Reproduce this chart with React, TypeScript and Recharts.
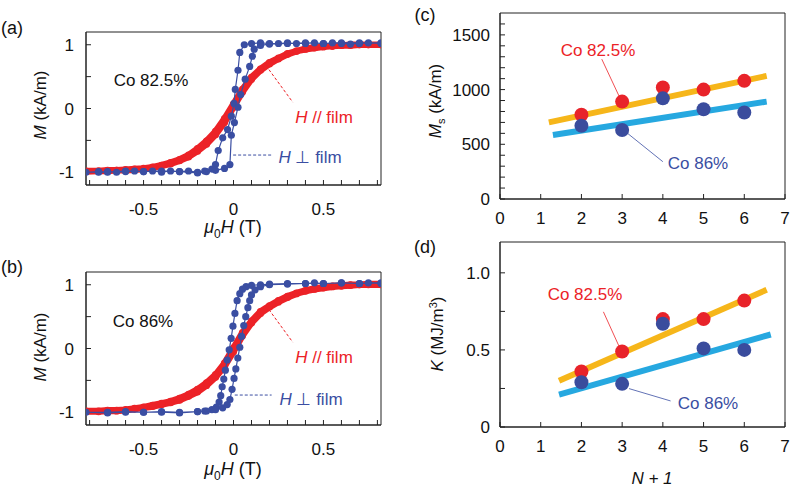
import React from 'react';
import { ScatterChart, Scatter, XAxis, YAxis, ReferenceLine, ReferenceArea } from 'recharts';

const FONT = '"Liberation Sans", Arial, Helvetica, sans-serif';

// ---- (a) / (b) hysteresis loops: mu0H (T) vs M (normalised) ----
const fieldGrid = [-0.82, -0.75, -0.7, -0.65, -0.6, -0.55, -0.5, -0.45, -0.4, -0.35, -0.3, -0.25, -0.2, -0.15, -0.1, -0.05, 0, 0.05, 0.1, 0.15, 0.2, 0.25, 0.3, 0.35, 0.4, 0.45, 0.5, 0.55, 0.6, 0.65, 0.7, 0.75, 0.82];

// H // film (in-plane), up sweep and down sweep, sampled on fieldGrid
const inPlaneUpA = [-0.99, -0.98, -0.98, -0.97, -0.97, -0.96, -0.95, -0.93, -0.9, -0.87, -0.82, -0.76, -0.67, -0.56, -0.41, -0.22, 0.02, 0.26, 0.46, 0.6, 0.7, 0.78, 0.85, 0.9, 0.93, 0.95, 0.97, 0.98, 0.99, 0.99, 1.0, 1.0, 1.0];
const inPlaneDownA = [-0.98, -0.98, -0.97, -0.97, -0.96, -0.95, -0.94, -0.92, -0.89, -0.85, -0.8, -0.73, -0.63, -0.51, -0.36, -0.16, 0.07, 0.3, 0.49, 0.62, 0.72, 0.79, 0.86, 0.9, 0.94, 0.96, 0.97, 0.98, 0.99, 1.0, 1.0, 1.0, 1.0];
const inPlaneUpB = [-0.99, -0.99, -0.98, -0.98, -0.97, -0.95, -0.93, -0.91, -0.88, -0.85, -0.81, -0.75, -0.68, -0.58, -0.45, -0.28, -0.05, 0.2, 0.4, 0.55, 0.65, 0.73, 0.8, 0.86, 0.9, 0.93, 0.95, 0.97, 0.98, 0.99, 1.0, 1.0, 1.0];
const inPlaneDownB = [-0.98, -0.98, -0.97, -0.97, -0.96, -0.94, -0.92, -0.89, -0.86, -0.83, -0.78, -0.72, -0.64, -0.54, -0.41, -0.23, 0.01, 0.25, 0.43, 0.58, 0.67, 0.75, 0.82, 0.87, 0.91, 0.94, 0.96, 0.98, 0.99, 1.0, 1.0, 1.01, 1.01];

// H ⊥ film (perpendicular) loops, in sweep order [field, M]
const perpLoopA: [number, number][] = [
  [0.82, 1.02], [0.75, 1.03], [0.7, 1.02], [0.65, 1.01], [0.6, 1.02], [0.55, 1.03], [0.5, 1.02], [0.45, 1.03], [0.4, 1.02], [0.35, 1.02],
  [0.3, 1.03], [0.25, 1.02], [0.2, 1.02], [0.15, 1.03], [0.1, 1.02], [0.06, 1.0], [0.035, 0.88], [0.025, 0.6], [0.01, 0.3], [0.003, 0.08],
  [-0.012, -0.12], [-0.033, -0.33], [-0.06, -0.46], [-0.085, -0.66], [-0.1, -0.88], [-0.12, -0.95], [-0.16, -0.98], [-0.2, -1.0], [-0.25, -0.98],
  [-0.3, -0.99], [-0.35, -0.98], [-0.4, -1.0], [-0.45, -0.98], [-0.5, -0.99], [-0.55, -0.98], [-0.6, -0.99], [-0.65, -1.0], [-0.7, -0.99],
  [-0.75, -1.0], [-0.82, -1.0], [-0.75, -0.99], [-0.7, -1.0], [-0.6, -0.98], [-0.5, -0.99], [-0.4, -0.98], [-0.3, -0.99], [-0.2, -1.01],
  [-0.15, -0.99], [-0.1, -0.97], [-0.05, -0.94], [-0.02, -0.88], [-0.012, -0.42], [0.005, -0.22], [0.025, 0.02], [0.04, 0.22], [0.065, 0.46],
  [0.09, 0.66], [0.105, 0.82], [0.115, 0.93], [0.15, 0.99], [0.2, 1.01], [0.3, 1.02], [0.4, 1.03], [0.5, 1.02], [0.6, 1.03], [0.7, 1.03], [0.82, 1.03],
];
const perpLoopB: [number, number][] = [
  [0.82, 1.02], [0.75, 1.03], [0.7, 1.02], [0.6, 1.03], [0.5, 1.02], [0.45, 1.03], [0.4, 1.02], [0.3, 1.02], [0.2, 1.01], [0.15, 1.0],
  [0.1, 0.99], [0.07, 0.97], [0.05, 0.93], [0.035, 0.86], [0.02, 0.75], [0.008, 0.55], [-0.003, 0.35], [-0.013, 0.16], [-0.024, -0.02],
  [-0.035, -0.18], [-0.045, -0.34], [-0.054, -0.48], [-0.063, -0.6], [-0.071, -0.74], [-0.08, -0.84], [-0.095, -0.92], [-0.12, -0.96],
  [-0.16, -0.98], [-0.2, -0.99], [-0.3, -1.0], [-0.4, -0.99], [-0.5, -1.0], [-0.6, -0.99], [-0.7, -1.0], [-0.82, -1.0],
  [-0.7, -1.01], [-0.6, -1.0], [-0.5, -1.0], [-0.4, -1.0], [-0.3, -1.01], [-0.2, -0.99], [-0.15, -0.98], [-0.1, -0.96], [-0.06, -0.93],
  [-0.035, -0.88], [-0.02, -0.8], [-0.008, -0.64], [0.003, -0.47], [0.013, -0.32], [0.024, -0.15], [0.035, 0.02], [0.045, 0.19],
  [0.057, 0.36], [0.068, 0.5], [0.08, 0.64], [0.09, 0.75], [0.1, 0.84], [0.12, 0.92], [0.15, 0.97], [0.2, 1.0], [0.3, 1.01], [0.4, 1.02],
  [0.5, 1.02], [0.6, 1.03], [0.7, 1.02], [0.82, 1.03],
];

const fieldTicks = [-0.8, -0.7, -0.6, -0.5, -0.4, -0.3, -0.2, -0.1, 0, 0.1, 0.2, 0.3, 0.4, 0.5, 0.6, 0.7, 0.8];
const fieldLabels = [-0.5, 0, 0.5];
const mTicks = [-1, -0.5, 0, 0.5, 1];
const mLabels = [-1, 0, 1];

// ---- (c) / (d) vs N + 1 ----
const layers = [2, 3, 4, 5, 6];
const msCo825 = [770, 890, 1020, 1000, 1080];
const msCo86 = [670, 630, 920, 820, 790];
const kCo825 = [0.36, 0.49, 0.7, 0.7, 0.82];
const kCo86 = [0.29, 0.28, 0.67, 0.51, 0.5];
// fitted lines, end points [N+1, value]
const msFit825: [number, number][] = [[1.2, 700], [6.55, 1125]];
const msFit86: [number, number][] = [[1.3, 585], [6.55, 890]];
const kFit825: [number, number][] = [[1.45, 0.3], [6.55, 0.89]];
const kFit86: [number, number][] = [[1.45, 0.21], [6.65, 0.6]];

const nTicks = [0, 1, 2, 3, 4, 5, 6, 7];
const msTicks = [0, 100, 200, 300, 400, 500, 600, 700, 800, 900, 1000, 1100, 1200, 1300, 1400, 1500, 1600];
const msLabels = [0, 500, 1000, 1500];
const kTicks = [0, 0.25, 0.5, 0.75, 1.0];
const kLabels = [0, 0.5, 1.0];

const RED = '#ec2227';
const BLUE = '#3a4ea2';
const ORANGE = '#f6b61a';
const SKY = '#26a8e0';
const AXIS = '#222';
const TICK_FS = 17;

const toPts = (p: [number, number][]) => p.map(([x, y]) => ({ x, y }));
const onGrid = (ys: number[]) => fieldGrid.map((x, i) => ({ x, y: ys[i] }));
const loopRed = (up: number[], down: number[]) => [...onGrid(up), ...onGrid(down).reverse()];
const zipPts = (xs: number[], ys: number[]) => xs.map((x, i) => ({ x, y: ys[i] }));

const dot = (r: number, fill: string) => (p: any) => <circle cx={p.cx} cy={p.cy} r={r} fill={fill} />;
const noDot = () => <g />;

// custom tick text so the size is exactly what we want
const bottomTick = (fmt: (v: number) => string) => (p: any) => (
  <text x={p.x} y={p.y} dy={12} textAnchor="middle" fontSize={TICK_FS} fontFamily={FONT} fill="#111">
    {fmt(p.payload.value)}
  </text>
);
const leftTick = (fmt: (v: number) => string) => (p: any) => (
  <text x={p.x} y={p.y} dy={6} textAnchor="end" fontSize={TICK_FS} fontFamily={FONT} fill="#111">
    {fmt(p.payload.value)}
  </text>
);

function Note({ x, y, color = '#111', size = 17, rotate = false, children }: any) {
  return (
    <div
      style={{
        position: 'absolute', left: x, top: y, color, fontSize: size, fontFamily: FONT,
        whiteSpace: 'nowrap', lineHeight: 1,
        transform: `translate(-50%, -50%)${rotate ? ' rotate(-90deg)' : ''}`,
      }}
    >
      {children}
    </div>
  );
}

function LoopPanel({ top, height, inUp, inDown, perp, bottom, blueLeadX }: any) {
  const fmtX = (v: number) => (fieldLabels.includes(v) ? String(v) : '');
  const fmtY = (v: number) => (mLabels.includes(v) ? String(v) : '');
  return (
    <div style={{ position: 'absolute', left: 0, top }}>
      <ScatterChart width={400} height={height} margin={{ top: 32, right: 19, bottom, left: 46 }}>
        <XAxis type="number" dataKey="x" domain={[-0.82, 0.82]} ticks={fieldTicks} interval={0}
          tickSize={-5} tickMargin={23} height={30} stroke={AXIS} tick={bottomTick(fmtX)} allowDataOverflow />
        <XAxis xAxisId="top" orientation="top" type="number" dataKey="x" domain={[-0.82, 0.82]} ticks={fieldTicks}
          interval={0} tick={false} tickSize={-5} height={0} stroke={AXIS} allowDataOverflow />
        <YAxis type="number" dataKey="y" domain={[-1.2, 1.2]} ticks={mTicks} interval={0}
          tickSize={-5} tickMargin={17} width={40} stroke={AXIS} tick={leftTick(fmtY)} allowDataOverflow />
        <YAxis yAxisId="right" orientation="right" type="number" dataKey="y" domain={[-1.2, 1.2]} ticks={mTicks}
          interval={0} tick={false} tickSize={-5} width={0} stroke={AXIS} allowDataOverflow />
        <ReferenceArea x1={-0.82} x2={0.82} y1={-1.2} y2={1.2} fill="none" stroke={AXIS} strokeWidth={1} ifOverflow="visible" />
        <Scatter xAxisId="top" yAxisId="right" data={loopRed(inUp, inDown)} fill={RED}
          line={{ stroke: RED, strokeWidth: 6.5 }} shape={dot(3.6, RED)} isAnimationActive={false} />
        <Scatter data={toPts(perp)} fill={BLUE} line={{ stroke: BLUE, strokeWidth: 1.2 }}
          shape={dot(3.6, BLUE)} isAnimationActive={false} />
        <ReferenceLine segment={[{ x: 0.197, y: 0.61 }, { x: 0.329, y: 0.1 }]} stroke={RED}
          strokeDasharray="3 2" strokeWidth={1} />
        <ReferenceLine segment={[{ x: blueLeadX, y: -0.73 }, { x: 0.212, y: -0.73 }]}
          stroke={BLUE} strokeDasharray="3 2" strokeWidth={1} />
      </ScatterChart>
    </div>
  );
}

function LayerPanel({ top, height, marginTop, bottom, yDomain, yTicks, fmtY, red, blue, fitRed, fitBlue, leadRed, leadBlue }: any) {
  return (
    <div style={{ position: 'absolute', left: 400, top }}>
      <ScatterChart width={400} height={height} margin={{ top: marginTop, right: 15, bottom, left: 50 }}>
        <XAxis type="number" dataKey="x" domain={[0, 7]} ticks={nTicks} interval={0}
          tickSize={-5} tickMargin={18} height={30} stroke={AXIS} tick={bottomTick((v) => String(v))} />
        <XAxis xAxisId="top" orientation="top" type="number" dataKey="x" domain={[0, 7]} ticks={nTicks}
          interval={0} tick={false} tickSize={-5} height={0} stroke={AXIS} />
        <YAxis type="number" dataKey="y" domain={yDomain} ticks={yTicks} interval={0}
          tickSize={-5} tickMargin={15} width={50} stroke={AXIS} tick={leftTick(fmtY)} allowDataOverflow />
        <YAxis yAxisId="right" orientation="right" type="number" dataKey="y" domain={yDomain} ticks={yTicks}
          interval={0} tick={false} tickSize={-5} width={0} stroke={AXIS} allowDataOverflow />
        <ReferenceArea x1={0} x2={7} y1={yDomain[0]} y2={yDomain[1]} fill="none" stroke={AXIS} strokeWidth={1} ifOverflow="visible" />
        <Scatter xAxisId="top" yAxisId="right" data={toPts(fitRed)} line={{ stroke: ORANGE, strokeWidth: 6 }}
          shape={noDot} isAnimationActive={false} />
        <Scatter data={toPts(fitBlue)} line={{ stroke: SKY, strokeWidth: 6 }} shape={noDot}
          isAnimationActive={false} />
        <ReferenceLine segment={leadRed} stroke={RED} strokeWidth={0.8} />
        <ReferenceLine segment={leadBlue} stroke={BLUE} strokeWidth={0.8} />
        <Scatter data={zipPts(layers, red)} shape={dot(7, '#e8232a')} isAnimationActive={false} />
        <Scatter data={zipPts(layers, blue)} shape={dot(7, '#3a4c9d')} isAnimationActive={false} />
      </ScatterChart>
    </div>
  );
}

const muH = (
  <span>
    <i>μ</i><sub style={{ fontSize: 12 }}>0</sub><i>H</i> (T)
  </span>
);

export default function App() {
  return (
    <div style={{ position: 'absolute', left: 0, top: 0, width: 800, height: 487, background: '#fff', overflow: 'hidden' }}>
      <LoopPanel top={0} height={240} inUp={inPlaneUpA} inDown={inPlaneDownA} perp={perpLoopA} bottom={25} blueLeadX={-0.002} />
      <LoopPanel top={240} height={247} inUp={inPlaneUpB} inDown={inPlaneDownB} perp={perpLoopB} bottom={32} blueLeadX={0.007} />
      <LayerPanel top={0} height={240} marginTop={13} bottom={11} yDomain={[0, 1700]} yTicks={msTicks}
        fmtY={(v: number) => (msLabels.includes(v) ? String(v) : '')}
        red={msCo825} blue={msCo86} fitRed={msFit825} fitBlue={msFit86}
        leadRed={[{ x: 2.5, y: 1278 }, { x: 2.93, y: 936 }]}
        leadBlue={[{ x: 3.13, y: 601 }, { x: 4.0, y: 341 }]} />
      <LayerPanel top={240} height={247} marginTop={2} bottom={30} yDomain={[0, 1.2]} yTicks={kTicks}
        fmtY={(v: number) => (kLabels.includes(v) ? (v === 0 ? '0' : v.toFixed(1)) : '')}
        red={kCo825} blue={kCo86} fitRed={kFit825} fitBlue={kFit86}
        leadRed={[{ x: 2.54, y: 0.747 }, { x: 2.93, y: 0.52 }]}
        leadBlue={[{ x: 3.17, y: 0.249 }, { x: 4.19, y: 0.169 }]} />

      {/* panel tags */}
      <Note x={12} y={28} size={18}>(a)</Note>
      <Note x={12} y={267} size={18}>(b)</Note>
      <Note x={425} y={15} size={18}>(c)</Note>
      <Note x={425} y={247} size={18}>(d)</Note>

      {/* axis titles */}
      <Note x={40} y={105} size={17} rotate><i>M</i> (kA/m)</Note>
      <Note x={40} y={347} size={17} rotate><i>M</i> (kA/m)</Note>
      <Note x={233} y={229} size={18}>{muH}</Note>
      <Note x={233} y={471} size={18}>{muH}</Note>
      <Note x={437} y={101} size={17} rotate><i>M</i><sub style={{ fontSize: 11 }}>s</sub> (kA/m)</Note>
      <Note x={437} y={334} size={17} rotate><i>K</i> (MJ/m<sup style={{ fontSize: 11 }}>3</sup>)</Note>
      <Note x={652} y={478} size={17}><i>N + 1</i></Note>

      {/* in-plot labels */}
      <Note x={151} y={80}>Co 82.5%</Note>
      <Note x={143} y={321}>Co 86%</Note>
      <Note x={324} y={117} color={RED}><i>H</i> // film</Note>
      <Note x={324} y={357} color={RED}><i>H</i> // film</Note>
      <Note x={310} y={157} color={BLUE}><i>H</i> ⊥ film</Note>
      <Note x={311} y={399} color={BLUE}><i>H</i> ⊥ film</Note>
      <Note x={598} y={50} color={RED}>Co 82.5%</Note>
      <Note x={698} y={163} color={BLUE}>Co 86%</Note>
      <Note x={585} y={294} color={RED}>Co 82.5%</Note>
      <Note x={708} y={403} color={BLUE}>Co 86%</Note>
    </div>
  );
}
